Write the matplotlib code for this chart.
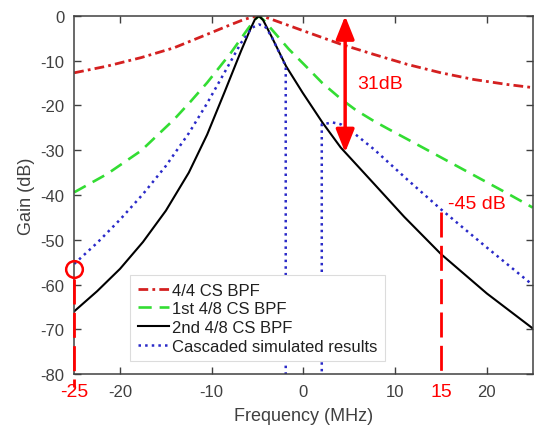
import matplotlib.pyplot as plt
from matplotlib.patches import ArrowStyle

plt.rcParams['font.family'] = ['Liberation Sans', 'DejaVu Sans']
plt.rcParams['axes.unicode_minus'] = False

# 4/4 CS BPF
f_44 = [-25, -21.4, -17.7, -14.1, -10.5, -8, -6.5, -5.6, -4.85, -4.2, -3.4, 0.25, 4.07, 7.7, 11.3, 15,
        18.6, 22.2, 25]
g_44 = [-12.7, -11.2, -9.3, -7.1, -4.1, -2.0, -0.8, -0.25, 0, -0.25, -0.8, -3.5, -6.3, -8.6, -10.8, -12.7,
        -14.2, -15.3, -16]

# 1st 4/8 CS BPF
f_48a = [-25, -21.4, -17.7, -14.1, -12.3, -10.5, -7.9, -6.1, -5.3, -4.85, -4.3, -1.6, 0.25, 2.07, 4.07,
         5.7, 7.7, 9.3, 11.3, 15, 18.6, 22.2, 25]
g_48a = [-39.4, -35.3, -30.1, -23.1, -19.1, -14.9, -8.2, -3.0, -0.8, 0, -1.0, -7.4, -11.2, -15, -18.5,
         -21, -23.5, -25.3, -27.5, -31.6, -35.6, -39.6, -42.8]

# 2nd 4/8 CS BPF
f_48b = [-25, -22.5, -20, -17.5, -15, -12.5, -10.5, -8.6, -6.8, -5.8, -5.3, -4.85, -4.4, -3.5, -1.9,
         -0.1, 2.07, 4.07, 7.7, 11, 15, 20, 25]
g_48b = [-66, -61.5, -56.5, -50.5, -43.5, -35, -26.5, -17, -7.8, -3, -0.8, 0, -0.9, -4.5, -11.2,
         -17.1, -23.8, -29.4, -37.5, -44.9, -53.2, -62, -69.8]

# cascaded simulated results
f_cas = [-25, -22.5, -20, -17.5, -15, -12.5, -10.5, -8.6, -6.8, -5.6, -4.85, -4.2, -3.5, -1.93, -1.93,
         2.0, 2.0, 3.2, 4.07, 5.7, 7.7, 11.3, 15, 19.8, 24.7, 25]
g_cas = [-55.4, -50.7, -45.5, -39.8, -33.5, -26.2, -19.5, -12.6, -6, -2.6, -1.9, -2.3, -4.5, -11.2, -100,
         -100, -24.2, -23.8, -24.2, -26.5, -29.8, -36.5, -43.2, -51.4, -59.6, -60]

labels = ['4/4 CS BPF', '1st 4/8 CS BPF', '2nd 4/8 CS BPF', 'Cascaded simulated results']
xticks = [-20, -10, 0, 10, 20]
yticks = [0, -10, -20, -30, -40, -50, -60, -70, -80]

ink = '#404040'
red = '#ff0000'

fig = plt.figure(figsize=(5.36, 4.31), dpi=100)
ax = fig.add_axes([0.1384, 0.1299, 0.8554, 0.8307])

l1, = ax.plot(f_44, g_44, color='#d42020', lw=2, dashes=(3.5, 1.5, 1, 1.5), label=labels[0])
l2, = ax.plot(f_48a, g_48a, color='#33dd33', lw=1.9, dashes=(5, 3), label=labels[1])
l3, = ax.plot(f_48b, g_48b, color='black', lw=1.5, label=labels[2])
l4, = ax.plot(f_cas, g_cas, color='#2a2ac8', lw=1.8, ls=':', label=labels[3])

ax.set_xlim(-25, 25)
ax.set_ylim(-80, 0)
ax.set_xticks(xticks)
ax.set_yticks(yticks)
ax.tick_params(direction='in', top=True, right=True, length=5, width=1,
               color=ink, labelcolor=ink, labelsize=12, pad=7)
for s in ax.spines.values():
    s.set_color(ink)
    s.set_linewidth(1.1)
ax.set_xlabel('Frequency (MHz)', fontsize=13, color=ink, labelpad=6)
ax.set_ylabel('Gain (dB)', fontsize=13, color=ink, labelpad=4)

leg = ax.legend(handles=[l1, l2, l3, l4], loc='lower left', bbox_to_anchor=(0.122, 0.036),
                borderaxespad=0, fontsize=12, frameon=True, fancybox=False, framealpha=1,
                handlelength=1.9, handletextpad=0.15, labelspacing=0.22, borderpad=0.45)
leg.get_frame().set_edgecolor('#dcdcdc')
leg.get_frame().set_linewidth(0.8)
for t in leg.get_texts():
    t.set_color('#202020')

# red annotations
ax.plot([-25, -25], [-58.8, -83], color=red, lw=2, dashes=(9, 3), clip_on=False, zorder=5)
ax.plot([15, 15], [-43.8, -79.5], color=red, lw=2, dashes=(9, 3), zorder=5)
ax.plot([-25], [-56.5], 'o', ms=12, mfc='none', mec=red, mew=1.8, clip_on=False, zorder=6)
ax.text(-25, -84, '-25', color=red, fontsize=14, ha='center', va='center', clip_on=False)
ax.text(15, -84, '15', color=red, fontsize=14, ha='center', va='center', clip_on=False)
ax.text(15.8, -41.8, '-45 dB', color=red, fontsize=14, ha='left', va='center')
ax.text(5.9, -15, '31dB', color=red, fontsize=14, ha='left', va='center')
ax.annotate('', xy=(4.55, -30.5), xytext=(4.55, 0),
            arrowprops=dict(arrowstyle=ArrowStyle('<|-|>', head_length=0.7, head_width=0.28),
                            mutation_scale=20, color=red, lw=2.5, shrinkA=0, shrinkB=0))

fig.savefig('out.png', dpi=100)
